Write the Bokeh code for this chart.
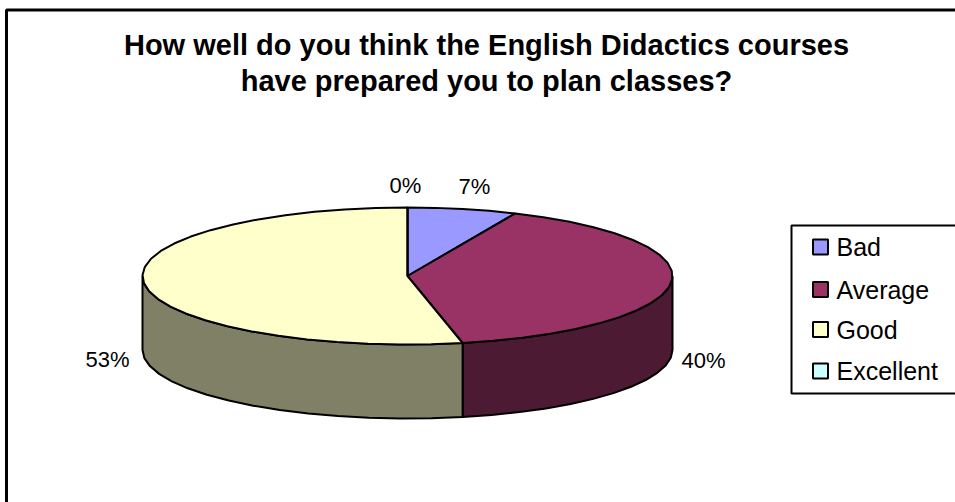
import numpy as np
from bokeh.plotting import figure
from bokeh.models import Range1d
from bokeh.core.properties import value
from bokeh.embed import file_html
from bokeh.resources import INLINE

categories = ["Bad", "Average", "Good", "Excellent"]
counts = [2, 12, 16, 0]
top_colors = ["#9999FF", "#993366", "#FFFFCC", "#CCFFFF"]
side_colors = ["#4D4D80", "#4D1A33", "#808066", "#668080"]
title_lines = ["How well do you think the English Didactics courses",
               "have prepared you to plan classes?"]
# layout only
FONT = "Liberation Sans"
W, H = 955, 502
CX, CY, RX, RY, DEPTH = 407, 275.5, 265, 68.5, 74
label_x = [405, 474, 703, 107]
label_y = [185, 186, 359.5, 358.5]
label_order = [3, 0, 1, 2]
legend_y = [246.5, 289, 329, 370.5]

p = figure(width=W, height=H, output_backend="svg", toolbar_location=None,
           x_range=Range1d(0, W), y_range=Range1d(H, 0), min_border=0,
           outline_line_color=None, x_axis_type=None, y_axis_type=None)
p.grid.visible = False

def rim(a0, a1):
    n = max(2, int(np.ceil((a1 - a0) / 7)) + 1)
    th = np.radians(np.linspace(a0, a1, n))
    return CX + RX * np.sin(th), CY - RY * np.cos(th)

shares = np.array(counts) / sum(counts) * 360
ends = np.cumsum(shares)
starts = ends - shares

for s, e, c in zip(starts, ends, side_colors):
    a0, a1 = max(s, 90), min(e, 270)
    if a1 > a0:
        x, y = rim(a0, a1)
        p.patch(np.r_[x, x[::-1]], np.r_[y, y[::-1] + DEPTH],
                fill_color=c, line_color="black", line_width=2)

for s, e, c in zip(starts, ends, top_colors):
    x, y = rim(s, e)
    p.patch(np.r_[CX, x], np.r_[CY, y], fill_color=c, line_color="black", line_width=2)

labels = [f"{counts[i] / sum(counts) * 100:.0f}%" for i in label_order]
p.text(label_x, label_y, text=labels, text_font=value(FONT), text_font_size="22px",
       text_color="black", text_align="center", text_baseline="middle")

p.text([486, 486], [44, 80], text=title_lines, text_font=value(FONT),
       text_font_size="29px", text_font_style="bold", text_color="black",
       text_align="center", text_baseline="middle")

# chart frame, cropped at the right and the bottom as in the picture
p.line([6, 6, W], [H, 9.5, 9.5], line_color="black", line_width=3)

# legend
p.quad(left=[791], right=[W + 5], top=[225], bottom=[393],
       fill_color="white", line_color="black", line_width=2)
p.rect([820] * 4, legend_y, width=15, height=15, fill_color=top_colors,
       line_color="black", line_width=2)
p.text([836] * 4, legend_y, text=categories, text_font=value(FONT),
       text_font_size="25px", text_color="black", text_align="left",
       text_baseline="middle")

open("out.html", "w").write(file_html(p, INLINE))
